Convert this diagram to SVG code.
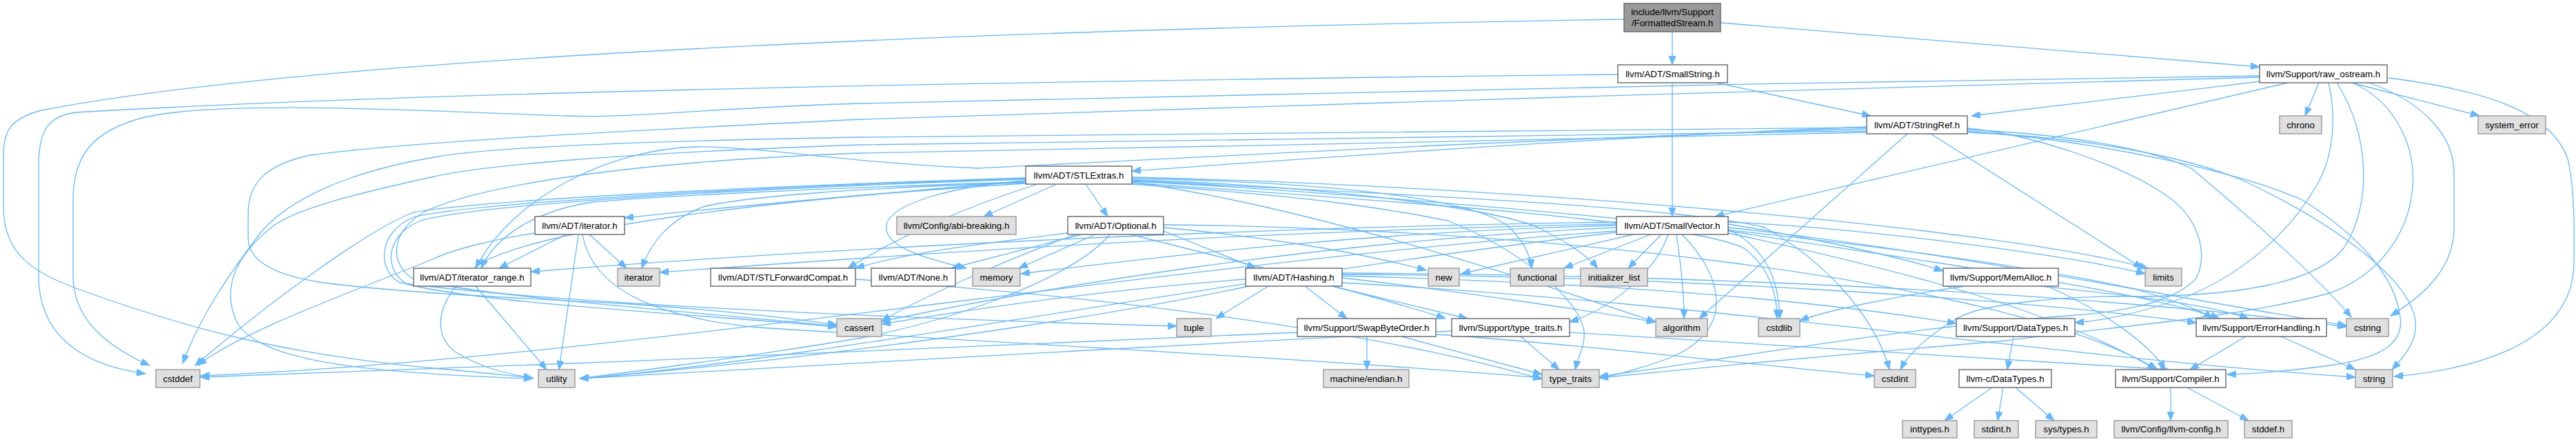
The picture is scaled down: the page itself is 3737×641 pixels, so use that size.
<svg xmlns="http://www.w3.org/2000/svg" width="3737" height="641" viewBox="0 0 3737 641">
<style>
.e{fill:none;stroke:#63b8ff;stroke-width:1.3;marker-end:url(#ah)}
.w{fill:#ffffff;stroke:#666666;stroke-width:1.4}
.g{fill:#e0e0e0;stroke:#999999;stroke-width:1.4}
.m{fill:#999999;stroke:#666666;stroke-width:1.4}
text{font-family:"Liberation Sans",Arial,Helvetica,sans-serif;font-size:13.3px;fill:#000000;text-anchor:middle}
</style>
<defs>
<marker id="ah" markerUnits="userSpaceOnUse" markerWidth="14" markerHeight="10" refX="13" refY="5" orient="auto">
<path d="M0,0 L13,5 L0,10 z" fill="#63b8ff" stroke="#63b8ff"/>
</marker>
</defs>
<rect width="3737" height="641" fill="#ffffff"/>
<g id="edges">
<path class="e" d="M2426,46 L2426,94"/>
<path class="e" d="M2496,33 L3278,97"/>
<path class="e" d="M2356,28 C1600,40 500,75 60,160 C15,172 5,190 5,225 L5,300 C5,370 50,395 110,418 C280,480 420,515 640,535 C700,540 740,545 773,548"/>
<path class="e" d="M2426,120 L2426,314"/>
<path class="e" d="M2490,120 L2714,168"/>
<path class="e" d="M2347,108 C1800,114 700,128 110,163 C70,168 56,190 56,240 L56,400 C56,480 110,528 211,542"/>
<path class="e" d="M3364,120 L3344,168"/>
<path class="e" d="M3411,120 L3597,168"/>
<path class="e" d="M3319,120 L2488,314"/>
<path class="e" d="M3278,118 C3120,138 2950,158 2860,168"/>
<path class="e" d="M3278,110 C2600,118 1700,140 1250,150 C1050,155 920,172 820,168 C600,160 320,145 210,170 C130,190 106,230 106,290 L106,400 C106,460 150,500 217,530"/>
<path class="e" d="M3278,112 C2700,125 1700,160 1250,173 C900,190 600,205 450,225 C380,240 360,270 360,310 L360,345 C360,380 400,400 470,410 C560,422 700,430 900,440 C1050,450 1150,462 1214,471"/>
<path class="e" d="M3378,120 C3390,170 3385,230 3360,270 C3320,340 3250,400 3165,433 C3100,455 3050,465 3010,468"/>
<path class="e" d="M3390,120 C3440,200 3440,300 3400,360 C3360,410 3250,428 3110,430 C3000,428 2880,440 2842,460 C2800,485 2770,510 2757,536"/>
<path class="e" d="M3437,120 C3520,150 3560,200 3560,250 L3560,330 C3560,380 3530,420 3468,458"/>
<path class="e" d="M3413,120 C3480,150 3505,220 3500,270 C3495,340 3450,400 3380,425 C3250,460 3100,470 2900,495 C2600,520 2400,540 2320,548"/>
<path class="e" d="M3465,113 C3600,130 3700,160 3725,230 C3736,280 3734,330 3734,380 C3734,470 3650,530 3473,546"/>
<path class="e" d="M2708,184 C2300,200 1900,230 1642,248"/>
<path class="e" d="M2708,187 C2300,198 1800,225 1420,244 C1250,238 1100,212 1010,213 C880,216 740,290 690,389"/>
<path class="e" d="M2708,185 C2400,190 1900,193 1250,199 C900,205 700,215 630,228 C500,250 420,290 380,335 C330,400 290,460 265,527"/>
<path class="e" d="M2708,190 C2300,195 1700,205 1250,210 C900,222 700,240 630,256 C520,280 440,300 400,325 C340,370 320,420 345,470 C380,520 500,540 773,549"/>
<path class="e" d="M2708,192 C2300,200 1700,215 1250,222 C900,235 700,270 620,305 C570,330 560,380 600,405 C700,430 1000,452 1214,473"/>
<path class="e" d="M2767,194 L2465,462"/>
<path class="e" d="M2801,194 L3108,389"/>
<path class="e" d="M2854,186 C2950,195 3080,240 3142,283 C3190,315 3205,370 3185,405 C3150,440 3080,452 3000,458 C2750,475 2450,530 2320,546"/>
<path class="e" d="M2854,190 C3050,205 3250,250 3340,290 C3420,340 3475,400 3482,460 C3488,500 3450,520 3380,530 C3320,538 3270,542 3231,543"/>
<path class="e" d="M2854,188 C3000,195 3120,215 3180,245 C3270,320 3370,410 3411,460"/>
<path class="e" d="M2854,192 C3000,198 3150,220 3250,260 C3380,320 3490,400 3503,460 C3510,490 3490,515 3470,536"/>
<path class="e" d="M1533,267 L1427,314"/>
<path class="e" d="M1575,267 L1607,314"/>
<path class="e" d="M1488,262 C1350,275 1100,295 906,316"/>
<path class="e" d="M1488,264 C1200,272 950,285 860,293 C780,305 720,340 698,389"/>
<path class="e" d="M1488,265 C1250,272 1080,285 1020,300 C970,320 945,350 931,389"/>
<path class="e" d="M1505,267 C1400,300 1300,345 1230,389"/>
<path class="e" d="M1489,262 C1380,270 1295,295 1286,325 C1280,355 1330,372 1402,389"/>
<path class="e" d="M1642,259 C1900,263 2140,285 2190,330 C2210,350 2220,370 2222,389"/>
<path class="e" d="M1642,261 C1900,268 2160,300 2232,330 C2270,350 2300,368 2318,389"/>
<path class="e" d="M1488,258 C1100,270 700,290 600,308 C540,330 400,430 283,530"/>
<path class="e" d="M1488,260 C1100,272 700,295 610,320 C560,340 555,390 590,412 C700,440 1000,455 1214,474"/>
<path class="e" d="M1488,259 C1100,270 680,295 600,315 C550,335 545,390 580,410 C800,440 1300,462 1707,473"/>
<path class="e" d="M1488,266 C1100,290 800,330 700,380 C640,420 620,480 660,510 C700,535 740,543 773,548"/>
<path class="e" d="M1642,263 C2000,280 2800,350 3100,420 C3150,435 3190,448 3210,462"/>
<path class="e" d="M1642,264 C1900,300 2200,400 2402,467"/>
<path class="e" d="M1642,262 C2000,280 2450,300 2560,330 C2650,380 2720,460 2741,536"/>
<path class="e" d="M1642,265 C2000,290 2450,320 2530,360 C2570,390 2578,430 2578,462"/>
<path class="e" d="M1642,257 C2200,270 2900,330 3116,389"/>
<path class="e" d="M1642,267 C1900,285 2000,300 2100,320 C2200,360 2290,430 2298,480 C2300,500 2290,515 2285,536"/>
<path class="e" d="M821,340 L724,389"/>
<path class="e" d="M855,340 L909,389"/>
<path class="e" d="M839,341 L811,536"/>
<path class="e" d="M776,338 C700,350 650,365 630,375 C520,420 350,480 287,530"/>
<path class="e" d="M845,340 C860,420 950,460 1100,475 C1500,500 1900,520 2237,548"/>
<path class="e" d="M1569,340 L1380,389"/>
<path class="e" d="M1589,340 L1478,389"/>
<path class="e" d="M1688,335 L1822,389"/>
<path class="e" d="M1688,330 C1800,340 1950,360 2069,392"/>
<path class="e" d="M1549,338 C1450,350 1320,365 1241,389"/>
<path class="e" d="M1560,340 C1450,380 1320,440 1279,466"/>
<path class="e" d="M1610,340 C1560,400 1400,460 1250,490 C1100,515 950,535 841,549"/>
<path class="e" d="M1688,326 C2200,330 2900,400 3130,536"/>
<path class="e" d="M1640,340 C1800,380 2000,430 2097,462"/>
<path class="e" d="M1893,415 L1954,462"/>
<path class="e" d="M1932,415 L2129,462"/>
<path class="e" d="M1840,415 L1764,462"/>
<path class="e" d="M1947,403 C2100,420 2300,450 2402,467"/>
<path class="e" d="M1807,405 C1600,420 1400,450 1279,470"/>
<path class="e" d="M1812,415 C1600,460 1200,520 841,549"/>
<path class="e" d="M1947,400 C2300,410 2600,430 2838,469"/>
<path class="e" d="M1947,398 C2400,400 2900,430 3186,468"/>
<path class="e" d="M1947,396 C2400,398 3000,420 3404,474"/>
<path class="e" d="M1947,410 C2500,440 3000,520 3417,547"/>
<path class="e" d="M2345,322 C1800,330 1200,360 770,394"/>
<path class="e" d="M2345,325 C1800,335 1300,370 957,395"/>
<path class="e" d="M2345,327 C2000,335 1700,370 1481,397"/>
<path class="e" d="M2370,340 L2120,397"/>
<path class="e" d="M2395,340 L2269,389"/>
<path class="e" d="M2410,340 L2362,389"/>
<path class="e" d="M2432,340 C2438,380 2443,420 2443,462"/>
<path class="e" d="M2345,335 C1700,380 900,520 291,545"/>
<path class="e" d="M2345,337 C1800,400 1200,520 841,549"/>
<path class="e" d="M2345,330 C1900,350 1500,420 1279,466"/>
<path class="e" d="M2507,325 C2600,340 2750,370 2819,393"/>
<path class="e" d="M2507,322 C2700,330 3000,370 3112,397"/>
<path class="e" d="M2507,330 C2800,360 3200,440 3404,472"/>
<path class="e" d="M2507,332 C2560,360 2580,400 2582,462"/>
<path class="e" d="M2507,335 C2800,380 3100,420 3220,462"/>
<path class="e" d="M2507,338 C2800,400 3000,460 3128,536"/>
<path class="e" d="M2420,340 C2400,400 2330,450 2277,467"/>
<path class="e" d="M2440,340 C2500,400 2520,480 2420,520 C2380,535 2340,545 2320,548"/>
<path class="e" d="M2850,415 C2750,430 2650,450 2611,465"/>
<path class="e" d="M2970,415 C3050,450 3120,500 3141,536"/>
<path class="e" d="M2960,415 C3100,430 3200,440 3262,462"/>
<path class="e" d="M1983,488 L1983,536"/>
<path class="e" d="M2033,488 L2237,543"/>
<path class="e" d="M1882,482 C1500,500 800,530 291,547"/>
<path class="e" d="M2083,485 C2300,500 2550,530 2719,545"/>
<path class="e" d="M2206,488 L2262,536"/>
<path class="e" d="M2106,480 C1700,500 1200,530 841,549"/>
<path class="e" d="M2277,482 C2600,500 2900,520 3147,536"/>
<path class="e" d="M1241,405 C1600,430 2000,480 2237,550"/>
<path class="e" d="M690,415 L793,536"/>
<path class="e" d="M3258,488 L3177,536"/>
<path class="e" d="M3309,488 L3417,536"/>
<path class="e" d="M2921,488 L2912,536"/>
<path class="e" d="M2890,562 L2821,610"/>
<path class="e" d="M2906,562 L2898,610"/>
<path class="e" d="M2924,562 L2980,610"/>
<path class="e" d="M3149,562 L3149,610"/>
<path class="e" d="M3173,562 L3262,610"/>
</g>
<g id="n0"><rect class="m" x="2356" y="5" width="140" height="41"/><text x="2426" y="22">include/llvm/Support</text><text x="2426" y="38">/FormattedStream.h</text></g>
<g id="n1"><rect class="w" x="2347" y="94" width="159" height="26"/><text x="2426.5" y="111.5">llvm/ADT/SmallString.h</text></g>
<g id="n2"><rect class="w" x="3278" y="94" width="185" height="26"/><text x="3370.5" y="111.5">llvm/Support/raw_ostream.h</text></g>
<g id="n3"><rect class="w" x="2708" y="168" width="146" height="26"/><text x="2781" y="185.5">llvm/ADT/StringRef.h</text></g>
<g id="n4"><rect class="g" x="3307" y="168" width="61" height="26"/><text x="3337.5" y="185.5">chrono</text></g>
<g id="n5"><rect class="g" x="3595" y="168" width="98" height="26"/><text x="3644" y="185.5">system_error</text></g>
<g id="n6"><rect class="w" x="1488" y="241" width="154" height="26"/><text x="1565" y="258.5">llvm/ADT/STLExtras.h</text></g>
<g id="n7"><rect class="w" x="776" y="314" width="130" height="26"/><text x="841" y="331.5">llvm/ADT/iterator.h</text></g>
<g id="n8"><rect class="g" x="1301" y="314" width="173" height="26"/><text x="1387.5" y="331.5">llvm/Config/abi-breaking.h</text></g>
<g id="n9"><rect class="w" x="1549" y="314" width="139" height="26"/><text x="1618.5" y="331.5">llvm/ADT/Optional.h</text></g>
<g id="n10"><rect class="w" x="2345" y="314" width="162" height="26"/><text x="2426" y="331.5">llvm/ADT/SmallVector.h</text></g>
<g id="n11"><rect class="w" x="600" y="389" width="170" height="26"/><text x="685" y="406.5">llvm/ADT/iterator_range.h</text></g>
<g id="n12"><rect class="g" x="896" y="389" width="61" height="26"/><text x="926.5" y="406.5">iterator</text></g>
<g id="n13"><rect class="w" x="1031" y="389" width="210" height="26"/><text x="1136" y="406.5">llvm/ADT/STLForwardCompat.h</text></g>
<g id="n14"><rect class="w" x="1264" y="389" width="122" height="26"/><text x="1325" y="406.5">llvm/ADT/None.h</text></g>
<g id="n15"><rect class="g" x="1411" y="389" width="69" height="26"/><text x="1445.5" y="406.5">memory</text></g>
<g id="n16"><rect class="w" x="1807" y="389" width="140" height="26"/><text x="1877" y="406.5">llvm/ADT/Hashing.h</text></g>
<g id="n17"><rect class="g" x="2072" y="389" width="45" height="26"/><text x="2094.5" y="406.5">new</text></g>
<g id="n18"><rect class="g" x="2191" y="389" width="78" height="26"/><text x="2230" y="406.5">functional</text></g>
<g id="n19"><rect class="g" x="2293" y="389" width="97" height="26"/><text x="2341.5" y="406.5">initializer_list</text></g>
<g id="n20"><rect class="w" x="2819" y="389" width="167" height="26"/><text x="2902.5" y="406.5">llvm/Support/MemAlloc.h</text></g>
<g id="n21"><rect class="g" x="3112" y="389" width="53" height="26"/><text x="3138.5" y="406.5">limits</text></g>
<g id="n22"><rect class="g" x="1214" y="462" width="65" height="26"/><text x="1246.5" y="479.5">cassert</text></g>
<g id="n23"><rect class="g" x="1707" y="462" width="50" height="26"/><text x="1732" y="479.5">tuple</text></g>
<g id="n24"><rect class="w" x="1882" y="462" width="201" height="26"/><text x="1982.5" y="479.5">llvm/Support/SwapByteOrder.h</text></g>
<g id="n25"><rect class="w" x="2106" y="462" width="171" height="26"/><text x="2191.5" y="479.5">llvm/Support/type_traits.h</text></g>
<g id="n26"><rect class="g" x="2402" y="462" width="75" height="26"/><text x="2439.5" y="479.5">algorithm</text></g>
<g id="n27"><rect class="g" x="2551" y="462" width="60" height="26"/><text x="2581" y="479.5">cstdlib</text></g>
<g id="n28"><rect class="w" x="2838" y="462" width="172" height="26"/><text x="2924" y="479.5">llvm/Support/DataTypes.h</text></g>
<g id="n29"><rect class="w" x="3186" y="462" width="189" height="26"/><text x="3280.5" y="479.5">llvm/Support/ErrorHandling.h</text></g>
<g id="n30"><rect class="g" x="3404" y="462" width="61" height="26"/><text x="3434.5" y="479.5">cstring</text></g>
<g id="n31"><rect class="g" x="226" y="536" width="64" height="26"/><text x="258" y="553.5">cstddef</text></g>
<g id="n32"><rect class="g" x="781" y="536" width="53" height="26"/><text x="807.5" y="553.5">utility</text></g>
<g id="n33"><rect class="g" x="1920" y="536" width="124" height="26"/><text x="1982" y="553.5">machine/endian.h</text></g>
<g id="n34"><rect class="g" x="2237" y="536" width="83" height="26"/><text x="2278.5" y="553.5">type_traits</text></g>
<g id="n35"><rect class="g" x="2719" y="536" width="60" height="26"/><text x="2749" y="553.5">cstdint</text></g>
<g id="n36"><rect class="w" x="2842" y="536" width="134" height="26"/><text x="2909" y="553.5">llvm-c/DataTypes.h</text></g>
<g id="n37"><rect class="w" x="3069" y="536" width="160" height="26"/><text x="3149" y="553.5">llvm/Support/Compiler.h</text></g>
<g id="n38"><rect class="g" x="3417" y="536" width="54" height="26"/><text x="3444" y="553.5">string</text></g>
<g id="n39"><rect class="g" x="2760" y="610" width="79" height="25"/><text x="2799.5" y="627">inttypes.h</text></g>
<g id="n40"><rect class="g" x="2864" y="610" width="64" height="25"/><text x="2896" y="627">stdint.h</text></g>
<g id="n41"><rect class="g" x="2953" y="610" width="89" height="25"/><text x="2997.5" y="627">sys/types.h</text></g>
<g id="n42"><rect class="g" x="3067" y="610" width="165" height="25"/><text x="3149.5" y="627">llvm/Config/llvm-config.h</text></g>
<g id="n43"><rect class="g" x="3256" y="610" width="69" height="25"/><text x="3290.5" y="627">stddef.h</text></g>
</svg>
